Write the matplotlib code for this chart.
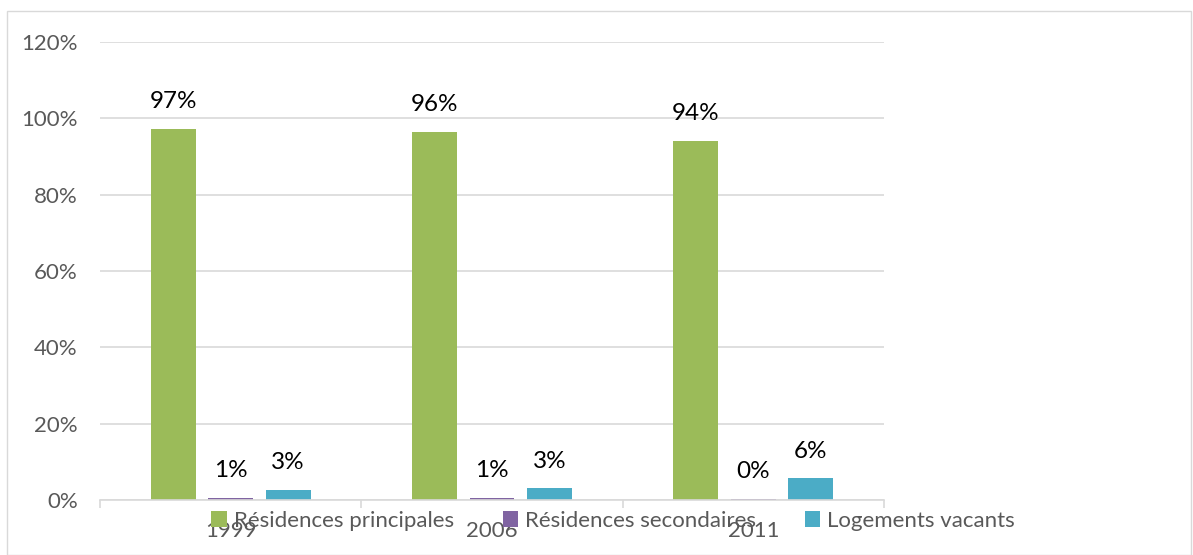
import matplotlib
matplotlib.use("Agg")
from matplotlib import pyplot
from matplotlib.patches import Rectangle
import numpy as np

# Data
years = ['1999', '2006', '2011']
principales = [97.2, 96.4, 94.1]
secondaires = [0.6, 0.6, 0.3]
vacants = [2.6, 3.1, 5.7]
labels_principales = ['97%', '96%', '94%']
labels_secondaires = ['1%', '1%', '0%']
labels_vacants = ['3%', '3%', '6%']
series_names = ['Résidences principales', 'Résidences secondaires', 'Logements vacants']
y_ticks = [0, 20, 40, 60, 80, 100, 120]

colours = ['#9bbb59', '#8064a2', '#4bacc6']
grid_colour = '#d9d9d9'
text_grey = '#595959'

pyplot.rcParams['font.family'] = ['Lato', 'DejaVu Sans']

fig = pyplot.figure(figsize=(11.93, 5.55), dpi=100)
ax = fig.add_axes([100 / 1193, 55 / 555, 784 / 1193, 458 / 555])

# Outer frame of the chart
fig.patches.append(Rectangle((7 / 1193, 0), 1184 / 1193, 544 / 555, transform=fig.transFigure,
                             fill=False, edgecolor='#d9d9d9', linewidth=1))

x = np.arange(len(years))
width = 0.172
step = 0.22
all_series = [principales, secondaires, vacants]
all_labels = [labels_principales, labels_secondaires, labels_vacants]
for i, (vals, labs) in enumerate(zip(all_series, all_labels)):
    pos = x + (i - 1) * step
    bars = ax.bar(pos, vals, width, color=colours[i], label=series_names[i], zorder=2)
    for b, lab in zip(bars, labs):
        ax.annotate(lab, (b.get_x() + b.get_width() / 2, b.get_height()),
                    xytext=(0, 12), textcoords='offset points', ha='center', va='bottom',
                    fontsize=17.5, color='black')

ax.set_xlim(-0.5, 2.5)
ax.set_ylim(0, 120)
ax.set_yticks(y_ticks)
ax.set_yticklabels([f'{v}%' for v in y_ticks])
ax.yaxis.grid(True, color=grid_colour, linewidth=1.2, zorder=0)
ax.set_axisbelow(True)

for s in ['top', 'right', 'left']:
    ax.spines[s].set_visible(False)
ax.spines['bottom'].set_color(grid_colour)
ax.spines['bottom'].set_linewidth(1.2)

ax.tick_params(axis='y', length=0, pad=16, labelsize=16, labelcolor=text_grey)
ax.set_xticks(x)
ax.set_xticklabels(years)
ax.tick_params(axis='x', length=0, pad=15, labelsize=16, labelcolor=text_grey)
ax.set_xticks([-0.5, 0.5, 1.5, 2.5], minor=True)
ax.tick_params(axis='x', which='minor', length=6, color=grid_colour, width=1.2)

leg = ax.legend(loc='center', bbox_to_anchor=(613 / 1193, 34 / 555), bbox_transform=fig.transFigure,
                ncol=3, frameon=False, fontsize=16, handlelength=0.7, handleheight=0.7,
                handletextpad=0.3, columnspacing=2.2, borderpad=0)
for t in leg.get_texts():
    t.set_color(text_grey)

pyplot.savefig('out.png', dpi=100)
